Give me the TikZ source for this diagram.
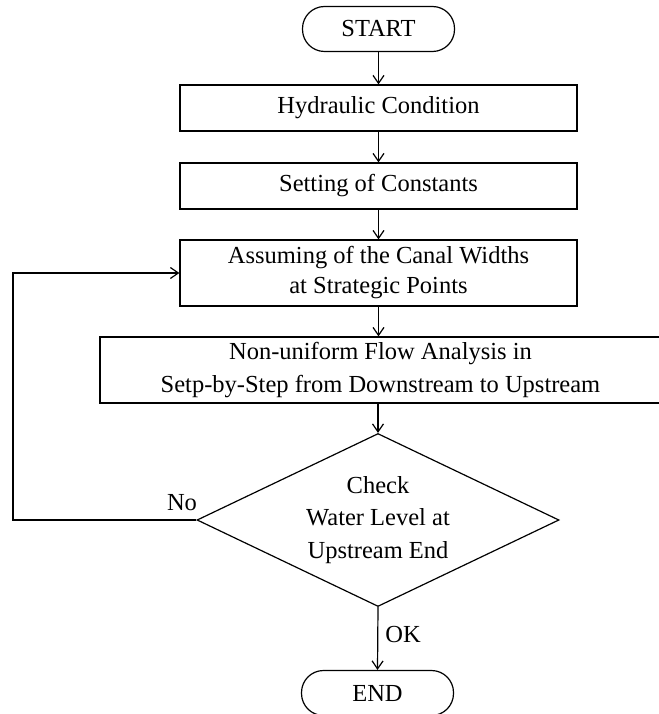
\documentclass[tikz,border=0pt]{standalone}
\usepackage{fontspec}
\setmainfont{Liberation Serif}
\usetikzlibrary{shapes.geometric,arrows.meta}
\begin{document}
\begin{tikzpicture}[x=1pt,y=-1pt,
  every node/.style={font=\fontsize{24.5}{31}\selectfont, inner sep=0pt},
  ln/.style={line width=1.2pt, black},
  arr/.style={ln, -{Straight Barb[length=8pt,width=11pt,line width=1.2pt]}},
  term/.style={draw, ln, rectangle, rounded corners=22pt, minimum width=152pt, minimum height=45pt},
  procbox/.style={draw, ln, rectangle, minimum width=397pt, align=center},
  decision/.style={draw, ln, diamond, aspect=2.09, minimum width=362pt, minimum height=173pt, align=center, font=\fontsize{24.5}{32.5}\selectfont},
  lbl/.style={font=\fontsize{24.5}{30}\selectfont}
]
\useasboundingbox (0,0) rectangle (658,714);
\node[term] (start) at (378.5,29) {START};
\node[procbox, minimum height=46pt] (hyd) at (378.5,108) {Hydraulic Condition};
\node[procbox, minimum height=46pt] (set) at (378.5,186) {Setting of Constants};
\node[procbox, minimum height=66pt, font=\fontsize{24.5}{30}\selectfont] (ass) at (378.5,273) {Assuming of the Canal Widths\\at Strategic Points};
\node[procbox, minimum width=561pt, minimum height=66pt, font=\fontsize{24.5}{33}\selectfont] (non) at (380.5,370) {Non-uniform Flow Analysis in\\Setp-by-Step from Downstream to Upstream};
\node[decision] (chk) at (378,520) {Check\\Water Level at\\Upstream End};
\node[term] (end) at (377.5,693) {END};
\coordinate (fbx) at (13,0);
\node[lbl] (no) at (182,503) {No};
\node[lbl] (ok) at (403,635) {OK};

\draw[arr] (start) -- (hyd);
\draw[arr] (hyd) -- (set);
\draw[arr] (set) -- (ass);
\draw[arr] (ass) -- (ass.south |- non.north);
\draw[arr] (chk.north |- non.south) -- (chk.north);
\draw[arr] (chk.south) -- (end.north);
\draw[arr] (chk.west) -- (chk.west -| fbx) |- (ass.west);
\end{tikzpicture}
\end{document}
